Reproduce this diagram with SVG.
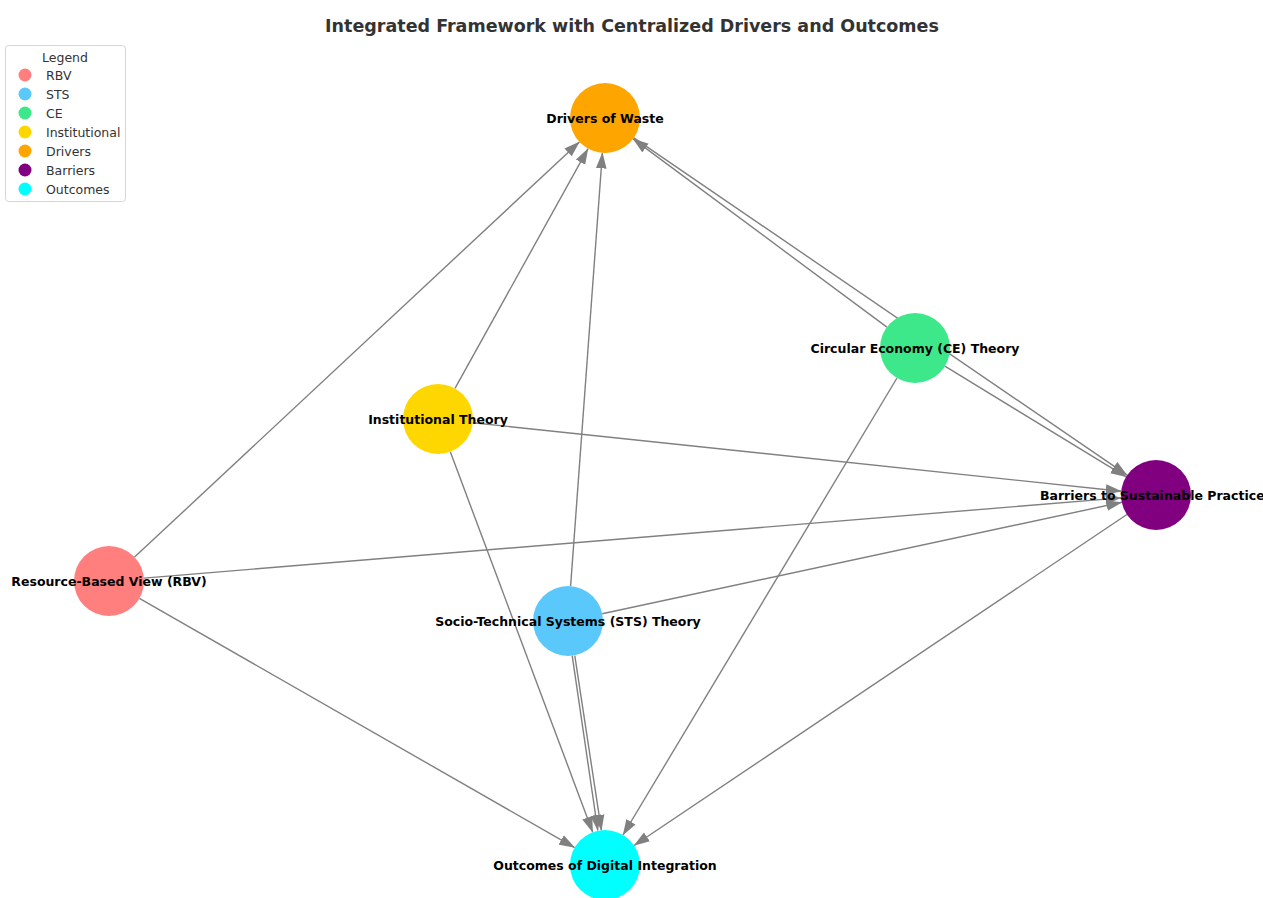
<svg xmlns="http://www.w3.org/2000/svg" width="1263" height="898" viewBox="0 0 1263 898">
<style>
.e{stroke:#808080;stroke-width:1.4;fill:none;marker-end:url(#ah)}
.n{stroke:none}
.lbl{font-family:"DejaVu Sans",sans-serif;font-weight:bold;font-size:12.5px;fill:#000;text-anchor:middle;dominant-baseline:central}
.title{font-family:"DejaVu Sans",sans-serif;font-weight:bold;font-size:17.5px;fill:#333;text-anchor:middle}
.lg{font-family:"DejaVu Sans",sans-serif;font-size:12.5px;fill:#333;dominant-baseline:central}
</style>
<defs>
<marker id="ah" markerUnits="userSpaceOnUse" markerWidth="16" markerHeight="12" viewBox="0 0 15 10" refX="14.5" refY="5" orient="auto">
<path d="M0,0 L15,5 L0,10 z" fill="#808080"/>
</marker>
</defs>
<rect width="1263" height="898" fill="#fff"/>
<text class="title" x="632" y="32">Integrated Framework with Centralized Drivers and Outcomes</text>
<g id="connectors">
<line class="e" x1="134.6" y1="557.1" x2="579.4" y2="141.9"/>
<line class="e" x1="455" y1="388.4" x2="588" y2="148.6"/>
<line class="e" x1="570.6" y1="586.1" x2="602.4" y2="152.9"/>
<line class="e" x1="886.9" y1="327.1" x2="633.1" y2="138.9"/>
<line class="e" x1="633.9" y1="137.8" x2="1127.1" y2="475.2"/>
<line class="e" x1="944.9" y1="366.2" x2="1126.1" y2="476.8"/>
<line class="e" x1="472.8" y1="422.7" x2="1121.2" y2="491.3"/>
<line class="e" x1="143.9" y1="578.1" x2="1121.1" y2="497.9"/>
<line class="e" x1="602.2" y1="613.7" x2="1121.8" y2="502.3"/>
<line class="e" x1="139.4" y1="598.4" x2="574.6" y2="847.6"/>
<line class="e" x1="450.3" y1="451.8" x2="592.7" y2="832.2"/>
<line class="e" x1="572.2" y1="655.6" x2="597.8" y2="830.4"/>
<line class="e" x1="574.8" y1="655.6" x2="601.4" y2="830.4"/>
<line class="e" x1="897" y1="378" x2="623" y2="835"/>
<line class="e" x1="1126.9" y1="514.5" x2="634.1" y2="845.5"/>
</g>
<g id="node-drivers"><circle class="n" cx="605" cy="118" r="35" fill="#FFA500"/></g>
<g id="node-ce"><circle class="n" cx="915" cy="348" r="35" fill="#3DE88A"/></g>
<g id="node-institutional"><circle class="n" cx="438" cy="419" r="35" fill="#FFD700"/></g>
<g id="node-barriers"><circle class="n" cx="1156" cy="495" r="35" fill="#800080"/></g>
<g id="node-rbv"><circle class="n" cx="109" cy="581" r="35" fill="#FF7F7F"/></g>
<g id="node-sts"><circle class="n" cx="568" cy="621" r="35" fill="#5AC8FA"/></g>
<g id="node-outcomes"><circle class="n" cx="605" cy="865" r="35" fill="#00FFFF"/></g>
<g id="labels">
<text class="lbl" x="605" y="118">Drivers of Waste</text>
<text class="lbl" x="915" y="348">Circular Economy (CE) Theory</text>
<text class="lbl" x="438" y="419">Institutional Theory</text>
<text class="lbl" x="1156" y="495">Barriers to Sustainable Practices</text>
<text class="lbl" x="109" y="581">Resource-Based View (RBV)</text>
<text class="lbl" x="568" y="621">Socio-Technical Systems (STS) Theory</text>
<text class="lbl" x="605" y="865">Outcomes of Digital Integration</text>
</g>
<g id="legend">
<rect x="5.5" y="45.5" width="120" height="156" rx="3" fill="#fff" fill-opacity="0.85" stroke="#d6d6d6" stroke-width="1"/>
<text class="lg" x="65" y="57" text-anchor="middle">Legend</text>
<circle cx="25" cy="75" r="6.5" fill="#FF7F7F"/><text class="lg" x="46" y="75">RBV</text>
<circle cx="25" cy="94" r="6.5" fill="#5AC8FA"/><text class="lg" x="46" y="94">STS</text>
<circle cx="25" cy="113" r="6.5" fill="#3DE88A"/><text class="lg" x="46" y="113">CE</text>
<circle cx="25" cy="132" r="6.5" fill="#FFD700"/><text class="lg" x="46" y="132">Institutional</text>
<circle cx="25" cy="151" r="6.5" fill="#FFA500"/><text class="lg" x="46" y="151">Drivers</text>
<circle cx="25" cy="170" r="6.5" fill="#800080"/><text class="lg" x="46" y="170">Barriers</text>
<circle cx="25" cy="189" r="6.5" fill="#00FFFF"/><text class="lg" x="46" y="189">Outcomes</text>
</g>
</svg>
